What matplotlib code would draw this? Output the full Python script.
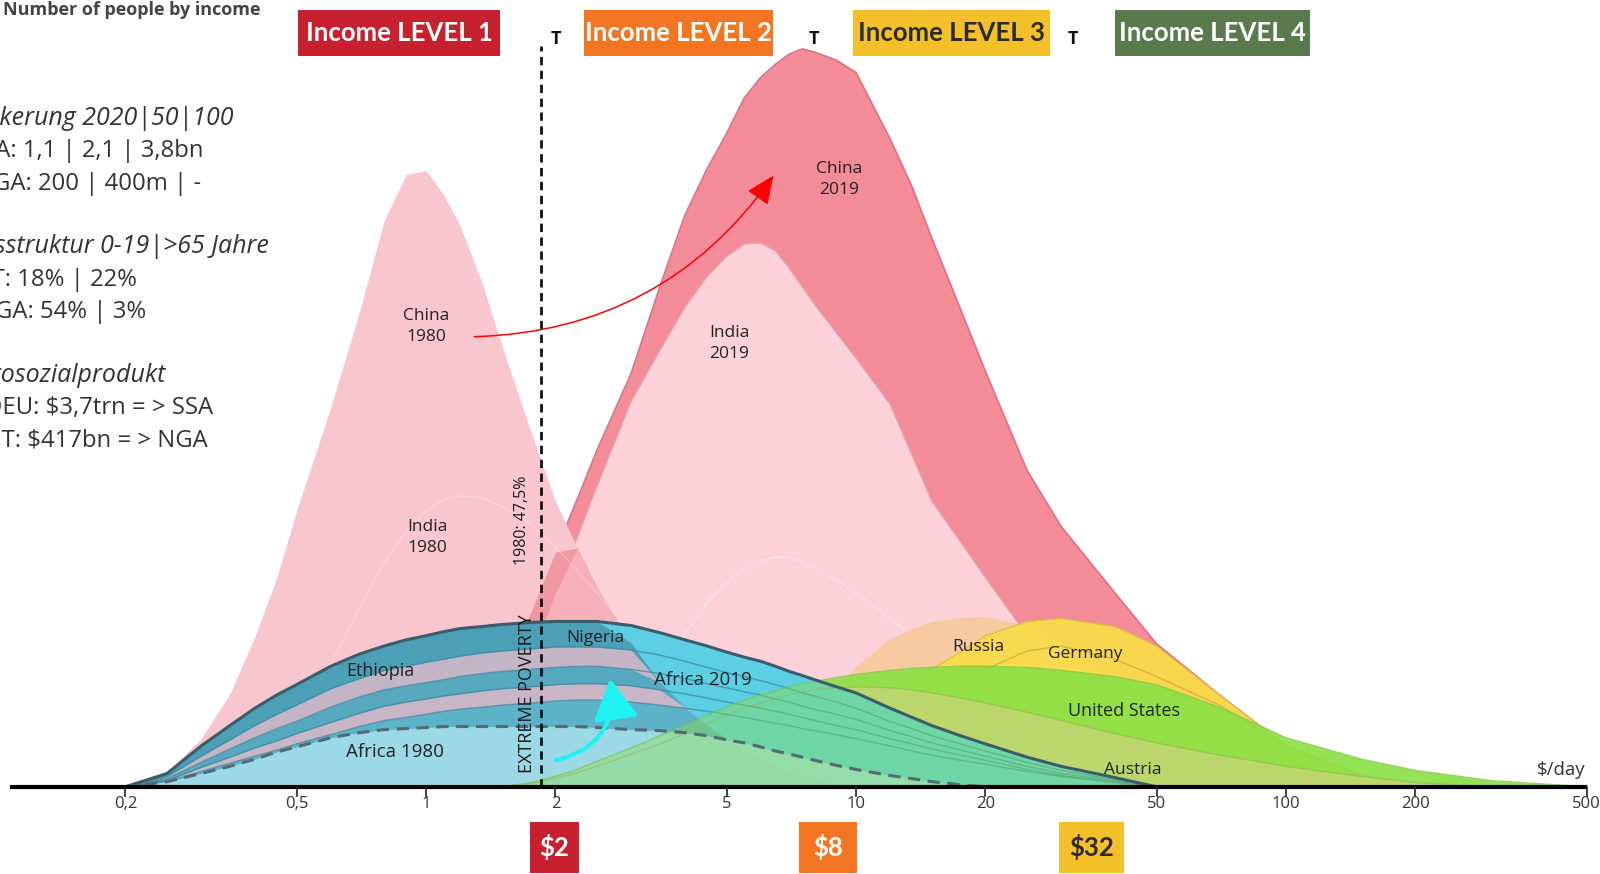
import numpy as np
import matplotlib
matplotlib.use("Agg")
import matplotlib.pyplot as plt
from matplotlib.patches import Rectangle, FancyArrowPatch

plt.rcParams['font.family'] = ['Open Sans', 'DejaVu Sans']

nan = float('nan')

# income grid in $/day (log scale) and mountain heights (people, arbitrary scale)
income = [0.2, 0.25, 0.3, 0.35, 0.4, 0.45, 0.5, 0.6, 0.7, 0.8, 0.9, 1,
          1.1, 1.2, 1.35, 1.5, 1.75, 2, 2.25, 2.5, 3, 3.5, 4, 4.5,
          5, 5.5, 6, 6.5, 7, 7.5, 8, 9, 10, 12, 13.5, 15,
          17.5, 20, 25, 30, 40, 50, 70, 100, 150, 200, 300, 500]

china_1980 = [0, 15, 47, 91, 147, 205, 270, 371, 465, 555, 600, 604,
              580, 550, 494, 433, 349, 280, 234, 195, 141, 102, 78, 60,
              47, 36, 27, 21, 15, 11, 8, 3, 0, 0, 0, 0,
              0, 0, 0, 0, 0, 0, 0, 0, 0, 0, 0, 0]
india_1980 = [0, 0, 0, 8, 20, 38, 60, 120, 175, 220, 250, 270,
              282, 285, 283, 275, 258, 235, 212, 190, 150, 120, 95, 75,
              60, 47, 35, 27, 20, 14, 10, 4, 0, 0, 0, 0,
              0, 0, 0, 0, 0, 0, 0, 0, 0, 0, 0, 0]
china_2019 = [0, 0, 0, 0, 0, 0, 0, 0, 0, 0, 10, 20,
              32, 45, 75, 110, 170, 230, 282, 330, 405, 490, 560, 605,
              640, 675, 695, 708, 718, 723, 720, 712, 700, 635, 588, 538,
              468, 407, 310, 255, 190, 140, 90, 40, 10, 0, 0, 0]
india_2019 = [0, 0, 0, 0, 0, 0, 0, 0, 5, 8, 13, 20,
              27, 35, 50, 70, 125, 190, 245, 295, 378, 428, 470, 500,
              520, 532, 533, 525, 508, 490, 473, 445, 420, 375, 325, 280,
              240, 205, 148, 110, 60, 35, 12, 0, 0, 0, 0, 0]
faint_2019 = [0, 0, 0, 0, 0, 0, 0, 0, 0, 0, 0, 0,
              0, 0, 0, 0, 0, 10, 25, 40, 80, 118, 150, 180,
              200, 214, 222, 225, 225, 220, 215, 203, 190, 165, 148, 130,
              110, 90, 60, 40, 15, 0, 0, 0, 0, 0, 0, 0]

africa_2019 = [0, 13, 40, 60, 77, 90, 100, 118, 130, 138, 144, 148,
               152, 155, 157, 159, 161, 162, 162, 162, 158, 151, 144, 138,
               132, 127, 123, 118, 113, 109, 105, 98, 92, 77, 68, 60,
               50, 42, 29, 20, 9, 0, 0, 0, 0, 0, 0, 0]
africa_band_a = [0, 10, 30, 46, 60, 71, 80, 96, 106, 114, 118, 122,
                 125, 128, 131, 133, 135, 137, 137, 137, 134, 129, 123, 117,
                 112, 108, 104, 100, 96, 92, 89, 83, 77, 64, 57, 50,
                 42, 35, 24, 16, 7, 0, 0, 0, 0, 0, 0, 0]
africa_band_b = [0, 8, 24, 37, 48, 57, 64, 78, 88, 95, 99, 102,
                 105, 108, 111, 113, 115, 117, 118, 118, 115, 111, 106, 101,
                 97, 93, 90, 86, 83, 79, 76, 71, 66, 55, 49, 43,
                 36, 30, 20, 13, 6, 0, 0, 0, 0, 0, 0, 0]
africa_band_c = [0, 6, 19, 29, 38, 45, 52, 63, 72, 79, 83, 86,
                 89, 91, 94, 96, 98, 100, 101, 101, 99, 95, 91, 87,
                 83, 80, 77, 74, 71, 68, 65, 60, 56, 47, 42, 37,
                 31, 26, 17, 11, 5, 0, 0, 0, 0, 0, 0, 0]
africa_band_d = [0, 5, 15, 23, 30, 36, 42, 51, 59, 65, 68, 71,
                 74, 76, 78, 80, 82, 84, 85, 85, 83, 80, 77, 74,
                 71, 68, 65, 62, 60, 57, 55, 51, 47, 40, 35, 31,
                 26, 22, 15, 10, 4, 0, 0, 0, 0, 0, 0, 0]
africa_1980 = [0, 5, 13, 20, 27, 34, 39, 48, 53, 56, 57, 58,
               59, 59, 59, 59, 59, 59, 59, 58, 56, 55, 53, 50,
               46, 43, 39, 35, 32, 29, 26, 21, 17, 11, 8, 5,
               2, 0, 0, 0, 0, 0, 0, 0, 0, 0, 0, 0]

russia = [0, 0, 0, 0, 0, 0, 0, 0, 0, 0, 0, 0,
          0, 0, 0, 0, 0, 0, 0, 0, 0, 0, 0, 0,
          5, 12, 20, 35, 50, 62, 75, 98, 118, 145, 155, 162,
          166, 167, 158, 140, 100, 70, 35, 10, 0, 0, 0, 0]
germany = [0, 0, 0, 0, 0, 0, 0, 0, 0, 0, 0, 0,
           0, 0, 0, 0, 0, 0, 0, 0, 0, 0, 0, 0,
           0, 4, 10, 17, 25, 32, 40, 55, 70, 95, 105, 115,
           132, 148, 162, 165, 157, 138, 90, 40, 10, 0, 0, 0]
germany_inner = [nan, nan, nan, nan, nan, nan, nan, nan, nan, nan, nan, nan,
                 nan, nan, nan, nan, nan, nan, nan, nan, nan, nan, nan, nan,
                 nan, nan, nan, nan, nan, nan, nan, nan, nan, nan, nan, nan,
                 nan, 115, 133, 138, 125, 108, 80, 40, 12, 0, nan, nan]
united_states = [0, 0, 0, 0, 0, 0, 0, 0, 0, 0, 0, 0,
                 0, 0, 0, 0, 4, 10, 17, 25, 38, 50, 60, 70,
                 78, 85, 90, 94, 98, 101, 103, 107, 110, 114, 116, 117,
                 118, 118, 117, 114, 108, 100, 78, 48, 27, 16, 6, 0]
rich_low = [0, 0, 0, 0, 0, 0, 0, 0, 0, 0, 0, 0,
            0, 0, 0, 0, 3, 8, 14, 20, 32, 42, 52, 62,
            70, 77, 82, 86, 90, 93, 95, 97, 98, 97, 95, 92,
            87, 82, 73, 65, 52, 43, 31, 20, 10, 4, 0, 0]

tick_values = [0.2, 0.5, 1, 2, 5, 10, 20, 50, 100, 200, 500]
tick_labels = ['0,2', '0,5', '1', '2', '5', '10', '20', '50', '100', '200', '500']
poverty_line = 1.85
level_marks = [2, 8, 32]

info_lines = [
    ("Bevölkerung 2020|50|100", 229, 116, True),
    ("SSA: 1,1 | 2,1 | 3,8bn", 199, 148, False),
    ("NGA: 200 | 400m | -", 197, 180, False),
    ("Altersstruktur 0-19|>65 Jahre", 264, 242, True),
    ("AUT: 18% | 22%", 134, 274, False),
    ("NGA: 54% | 3%", 143, 306, False),
    ("Bruttosozialprodukt", 163, 368, True),
    ("DEU: $3,7trn = > SSA", 209, 400, False),
    ("AUT: $417bn = > NGA", 204, 432, False),
]
level_boxes = [
    ("Income LEVEL 1", 292, 490, '#c8202f', 'white'),
    ("Income LEVEL 2", 572, 758, '#f47521', 'white'),
    ("Income LEVEL 3", 836, 1029, '#f4c02a', '#2b2b2b'),
    ("Income LEVEL 4", 1093, 1284, '#5a7a4d', 'white'),
]
dollar_boxes = [
    ("$2", 519, 567, '#c8202f', 'white'),
    ("$8", 783, 840, '#f47521', 'white'),
    ("$32", 1038, 1102, '#f4c02a', '#2b2b2b'),
]

W, H = 1568, 856.5   # frame the layout positions were measured in


def fx(x):
    return x / W


def fy(y):
    return 1 - y / H


def line_only(vals):
    """keep positive values plus the zero right next to them"""
    v = np.array(vals, dtype=float)
    pos = v > 0
    keep = pos | np.r_[pos[1:], False] | np.r_[False, pos[:-1]]
    return np.where(keep, v, np.nan)


x = np.array(income)
c80 = np.array(china_1980, dtype=float)
c19 = np.array(china_2019, dtype=float)
i19 = np.array(india_2019, dtype=float)
a19 = np.array(africa_2019, dtype=float)
ba = np.array(africa_band_a, dtype=float)
bb = np.array(africa_band_b, dtype=float)
bc = np.array(africa_band_c, dtype=float)
bd = np.array(africa_band_d, dtype=float)
us = np.array(united_states, dtype=float)
rl = np.array(rich_low, dtype=float)

fig = plt.figure(figsize=(16, 8.74), dpi=100)
ax = fig.add_axes([0, 0, 1, 1])
ax.set_xscale('log')
ax.set_xlim(0.1022, 537.3)
ax.set_ylim(-85.5, 771)
ax.set_axis_off()

# 2019 Asia mountains
ax.fill_between(x, c19, color='#f48b98', lw=0, zorder=1)
ax.plot(x, line_only(c19), color='#dc7482', lw=1.3, zorder=1.1)
ax.fill_between(x, i19, color='#fcd2d8', lw=0, zorder=1.2)
ax.plot(x, line_only(i19), color='#e7a3ad', lw=1, zorder=1.3)
ax.plot(x, line_only(faint_2019), color='white', lw=1.5, alpha=0.3, zorder=1.4)

# 1980 China mountain and its overlap with 2019
ax.fill_between(x, c80, color='#f9c6cd', lw=0, zorder=2)
ax.fill_between(x, np.minimum(c80, c19), color='#f097a4', lw=0, zorder=2.1)
ax.fill_between(x, np.minimum(c80, i19), color='#f5b0ba', lw=0, zorder=2.2)
ax.plot(x, line_only(india_1980), color='white', lw=1.3, alpha=0.2, zorder=2.3)

# Russia, Germany
ax.fill_between(x, russia, color='#f9c9a2', lw=0, zorder=3)
ax.fill_between(x, germany, color='#f9dc4a', lw=0, alpha=0.95, zorder=3.1)
ax.plot(x, line_only(germany), color='#e2bf3c', lw=0.9, zorder=3.2)
ax.plot(x, germany_inner, color='#c5a53c', lw=1, alpha=0.7, zorder=3.2)

# Africa 2019 with country stripes (darker where it overlaps China 1980)
ax.fill_between(x, a19, color='#5ccfe4', lw=0, zorder=4)
ax.fill_between(x, np.minimum(a19, c80), color='#4b9fb6', lw=0, zorder=4.1)
ax.fill_between(x, np.minimum(bb, c80), np.minimum(ba, c80), color='#c3b4c6', lw=0, zorder=4.2)
ax.fill_between(x, np.minimum(bc, c80), np.minimum(bb, c80), color='#55a8bd', lw=0, zorder=4.2)
ax.fill_between(x, np.minimum(bd, c80), np.minimum(bc, c80), color='#c8b6c6', lw=0, zorder=4.2)
ax.fill_between(x, 0, np.minimum(bd, c80), color='#5cb2c6', lw=0, zorder=4.2)
for band in (ba, bb, bc, bd):
    ax.plot(x, line_only(band), color='#3c8aa0', lw=1, alpha=0.75, zorder=4.3)

# Africa 1980
ax.fill_between(x, africa_1980, color='#a8e0ee', lw=0, alpha=0.85, zorder=5)

# United States and other rich countries: solid above Africa, see-through inside it
ax.fill_between(x, np.minimum(a19, us), us, color='#8be046', lw=0, alpha=0.92, zorder=6)
ax.fill_between(x, 0, np.minimum(a19, us), color='#8be046', lw=0, alpha=0.4, zorder=6)
ax.plot(x, line_only(us), color='#7fc846', lw=1, alpha=0.8, zorder=6.1)
ax.fill_between(x, np.minimum(a19, rl), rl, color='#cdd47c', lw=0, alpha=0.7, zorder=6.2)
ax.plot(x, line_only(rl), color='#9cae55', lw=0.9, alpha=0.5, zorder=6.3)

# outlines on top
ax.plot(x, line_only(a19), color='#3a5d6c', lw=2.2, zorder=8)
ax.plot(x, line_only(africa_1980), color='#526a74', lw=2.2, ls=(0, (4, 2.5)), zorder=8)

# extreme poverty line
ax.plot([poverty_line, poverty_line], [0, 726], color='#111111', lw=2, ls=(0, (3, 2)), zorder=9)
ax.text(1.72, 91, 'EXTREME POVERTY', rotation=90, ha='center', va='center',
        fontsize=13, color='#1a1a1a', zorder=10)
ax.text(1.676, 261, '1980: 47,5%', rotation=90, ha='center', va='center',
        fontsize=11.5, color='#1a1a1a', zorder=10)

# income axis
ax.plot([0.108, 502], [0, 0], color='black', lw=3, solid_capstyle='butt', zorder=11)
for v, lab in zip(tick_values, tick_labels):
    ax.plot([v, v], [0, -9], color='#222222', lw=1.2, zorder=11)
    ax.text(v, -17, lab, ha='center', va='center', fontsize=12, color='#333333')
ax.text(436, 16, '$/day', ha='center', va='center', fontsize=13.5, color='#333333', zorder=11)
for v in level_marks:
    ax.text(v, 733, 'T', ha='center', va='center', fontsize=13, fontweight='bold', color='#111111')

# labels
labels = [
    ("China\n1980", 1.0, 451, 12.5), ("India\n1980", 1.01, 244, 12.5),
    ("China\n2019", 9.12, 595, 12.5), ("India\n2019", 5.08, 434, 12.5),
    ("Nigeria", 2.47, 146, 12.5), ("Ethiopia", 0.782, 113, 13),
    ("Africa 2019", 4.41, 105, 13.5), ("Africa 1980", 0.847, 34, 13.5),
    ("Russia", 19.3, 137, 12.5), ("Germany", 34.2, 130, 12.5),
    ("United States", 41.9, 74, 13), ("Austria", 44, 16, 12.5),
]
for txt, lx, ly, size in labels:
    ax.text(lx, ly, txt, ha='center', va='center', fontsize=size, color='#222222',
            linespacing=1.4, zorder=12)

# arrows
ax.add_patch(FancyArrowPatch((1.297, 441), (6.43, 599), connectionstyle='arc3,rad=0.25',
                             arrowstyle='-|>,head_length=0.8,head_width=0.35', mutation_scale=22,
                             color='red', lw=1.1, shrinkA=0, shrinkB=0, zorder=13))
ax.add_patch(FancyArrowPatch((2.007, 26), (2.68, 106), connectionstyle='arc3,rad=0.45',
                             arrowstyle='-|>,head_length=0.9,head_width=0.5', mutation_scale=28,
                             color='#1ff2f2', lw=3, shrinkA=0, shrinkB=0, zorder=13))

# title and side notes
fig.text(fx(3), fy(10), 'Number of people by income', ha='left', va='center',
         fontsize=13, fontweight='bold', color='#444444')
for txt, right, yy, italic in info_lines:
    fig.text(fx(right), fy(yy), txt, ha='right', va='center',
             fontsize=18 if italic else 17.2,
             color='#333333', style='italic' if italic else 'normal')

# income level boxes
box_font = ['Lato', 'DejaVu Sans']
for txt, x0, x1, bg, fg in level_boxes:
    fig.patches.append(Rectangle((fx(x0), fy(55)), fx(x1) - fx(x0), fy(10) - fy(55),
                                 transform=fig.transFigure, color=bg, lw=0))
    fig.text(fx((x0 + x1) / 2), fy(32.5), txt, ha='center', va='center', fontsize=18.5,
             fontweight='bold', color=fg, family=box_font)
for txt, x0, x1, bg, fg in dollar_boxes:
    fig.patches.append(Rectangle((fx(x0), fy(856)), fx(x1) - fx(x0), fy(806) - fy(856),
                                 transform=fig.transFigure, color=bg, lw=0))
    fig.text(fx((x0 + x1) / 2), fy(830), txt, ha='center', va='center', fontsize=18.5,
             fontweight='bold', color=fg, family=box_font)

fig.savefig('out.png', dpi=100)
